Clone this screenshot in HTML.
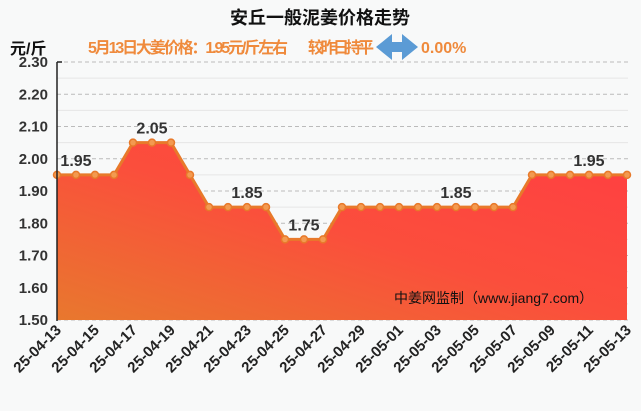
<!DOCTYPE html>
<html><head><meta charset="utf-8"><style>
body{margin:0;background:#f8f9f9;font-family:"Liberation Sans","Noto Sans CJK SC",sans-serif}
svg{display:block}
</style></head><body>
<svg width="641" height="411" viewBox="0 0 641 411">
<defs>
<linearGradient id="fg" x1="0" y1="1" x2="1" y2="0">
<stop offset="0" stop-color="#e8782e"/><stop offset="0.5" stop-color="#fb4e3c"/><stop offset="1" stop-color="#ff3e42"/>
</linearGradient>
</defs>
<rect width="641" height="411" fill="#f8f9f9"/>
<text x="320" y="24" text-anchor="middle" font-size="18" font-weight="bold" fill="#111">安丘一般泥姜价格走势</text>
<text x="10" y="54" font-size="16" font-weight="bold" fill="#111">元/斤</text>
<text x="88" y="53" font-size="16" font-weight="bold" fill="#ef8a3c" textLength="200">5月13日大姜价格：1.95元/斤左右</text>
<text x="308" y="53" font-size="16" font-weight="bold" fill="#ef8a3c" textLength="66">较昨日持平</text>
<polygon points="376,47 392,34 392,42 402,42 402,34 418,47 402,60 402,52 392,52 392,60" fill="#5b9bd5"/>
<text x="421" y="53" font-size="16" font-weight="bold" fill="#ef8a3c">0.00%</text>
<g id="grid"></g>
<path id="area" fill="url(#fg)"/>
<path id="line" fill="none" stroke="#e8792a" stroke-width="3"/>
<g id="marks"></g>
<line x1="57" y1="62" x2="57" y2="321" stroke="#222" stroke-width="1.5"/>
<line x1="57" y1="62" x2="62" y2="62" stroke="#222" stroke-width="1.5"/>
<text x="394" y="303" font-size="14" fill="#111">中姜网监制（www.jiang7.com）</text>
</svg>
<script>
const dates=["25-04-13","25-04-14","25-04-15","25-04-16","25-04-17","25-04-18","25-04-19","25-04-20","25-04-21","25-04-22","25-04-23","25-04-24","25-04-25","25-04-26","25-04-27","25-04-28","25-04-29","25-04-30","25-05-01","25-05-02","25-05-03","25-05-04","25-05-05","25-05-06","25-05-07","25-05-08","25-05-09","25-05-10","25-05-11","25-05-12","25-05-13"];
const prices=[1.95,1.95,1.95,1.95,2.05,2.05,2.05,1.95,1.85,1.85,1.85,1.85,1.75,1.75,1.75,1.85,1.85,1.85,1.85,1.85,1.85,1.85,1.85,1.85,1.85,1.95,1.95,1.95,1.95,1.95,1.95];
const yTicks=["1.50","1.60","1.70","1.80","1.90","2.00","2.10","2.20","2.30"];
const labelIdx=[1,5,10,13,21,28];
const NS="http://www.w3.org/2000/svg";
const X0=57,X1=627,YT=62,YB=320,VMIN=1.5,VMAX=2.3;
const xs=i=>X0+(X1-X0)*i/(dates.length-1);
const ys=v=>YB-(v-VMIN)/(VMAX-VMIN)*(YB-YT);
function mk(tag,attrs,parent){const e=document.createElementNS(NS,tag);for(const k in attrs)e.setAttribute(k,attrs[k]);parent.appendChild(e);return e;}
const svg=document.querySelector('svg');
const grid=document.getElementById('grid');
yTicks.forEach((t,i)=>{
  const v=parseFloat(t),y=ys(v);
  const l=mk('line',{x1:X0,x2:628,y1:y,y2:y,stroke:'#bbb','stroke-dasharray':'4,3'},grid);
  
  
  if(i<yTicks.length-1){const y2=ys(v+0.05);const l2=mk('line',{x1:X0,x2:628,y1:y2,y2:y2,stroke:'#e6e6e6'},grid);
  
  }
  const tx=mk('text',{x:48,y:y+5,'text-anchor':'end','font-size':15,'font-weight':'bold',fill:'#333'},svg);
  tx.textContent=t;
  
  
});
let d='';prices.forEach((p,i)=>{d+=(i?'L':'M')+xs(i)+','+ys(p);});
document.getElementById('line').setAttribute('d',d);
document.getElementById('area').setAttribute('d',d+'L'+xs(prices.length-1)+','+YB+'L'+X0+','+YB+'Z');
const marks=document.getElementById('marks');
prices.forEach((p,i)=>{
  const c=mk('circle',{cx:xs(i),cy:ys(p),r:3.5,fill:'#f39a50',stroke:'#e8792a','stroke-width':1.5},marks);
  
  
});
labelIdx.forEach(i=>{
  const t=mk('text',{x:xs(i),y:ys(prices[i])-9,'text-anchor':'middle','font-size':16,'font-weight':'bold',fill:'#333'},svg);
  t.textContent=prices[i].toFixed(2);
  
  
});
dates.forEach((dt,i)=>{
  if(i%2)return;
  const x=xs(i);
  const t=mk('text',{x:x+5,y:331,'text-anchor':'end','font-size':15,'font-weight':'bold',fill:'#222',transform:`rotate(-45 ${x+5} 331)`},svg);
  t.textContent=dt;
  
  
});
</script>
</body></html>
